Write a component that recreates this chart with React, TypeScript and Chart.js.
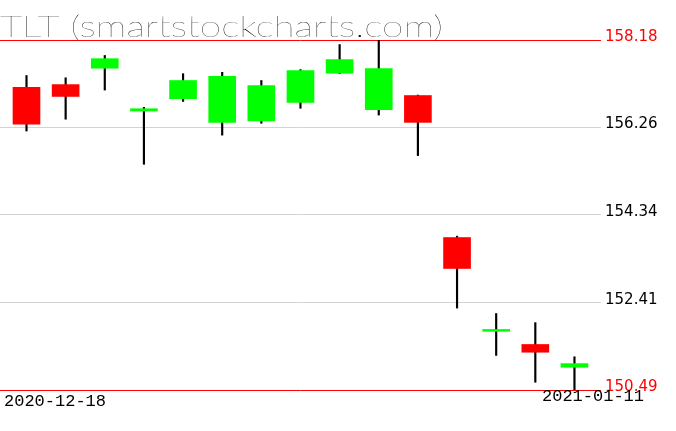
import React, { useEffect, useRef } from "react";
import { Chart, registerables } from "chart.js";

Chart.register(...registerables);

const titleText = "TLT (smartstockcharts.com)";
const dates = [
  "2020-12-18", "2020-12-21", "2020-12-22", "2020-12-23", "2020-12-24",
  "2020-12-28", "2020-12-29", "2020-12-30", "2020-12-31", "2021-01-04",
  "2021-01-05", "2021-01-06", "2021-01-07", "2021-01-08", "2021-01-11",
];
const opens = [157.14, 157.2, 157.56, 156.62, 156.89, 156.37, 156.4, 156.81, 157.45, 156.65, 156.96, 153.84, 151.78, 151.49, 150.99];
const highs = [157.4, 157.35, 157.84, 156.7, 157.44, 157.47, 157.29, 157.53, 158.08, 158.18, 156.97, 153.87, 152.17, 151.97, 151.22];
const lows = [156.18, 156.44, 157.08, 155.45, 156.83, 156.09, 156.35, 156.68, 157.44, 156.53, 155.64, 152.29, 151.25, 150.66, 150.49];
const closes = [156.33, 156.94, 157.77, 156.67, 157.29, 157.38, 157.18, 157.51, 157.75, 157.55, 156.37, 153.16, 151.82, 151.32, 151.07];
const yTicks = [150.49, 152.41, 154.34, 156.26, 158.18];

const UP = "#00ff00";
const DOWN = "#ff0000";

export default function App() {
  const ref = useRef<HTMLCanvasElement | null>(null);

  useEffect(() => {
    if (!ref.current) return;
    const yMin = Math.min(...lows);
    const yMax = Math.max(...highs);

    const textPlugin = {
      id: "texts",
      afterDraw(chart: any) {
        const ctx = chart.ctx;
        ctx.save();
        ctx.fillStyle = "#000";
        ctx.textBaseline = "alphabetic";
        ctx.textAlign = "left";
        ctx.font = "100 30px Lato";
        const w = ctx.measureText(titleText).width;
        ctx.translate(0, 37);
        ctx.scale(443 / w, 1);
        ctx.fillText(titleText, 0, 0);
        ctx.restore();

        ctx.save();
        ctx.fillStyle = "#000";
        ctx.textBaseline = "alphabetic";
        ctx.textAlign = "left";
        ctx.font = "17px 'Liberation Mono'";
        ctx.fillText(dates[0], 4, 406);
        ctx.fillText(dates[dates.length - 1], 542, 401);
        ctx.restore();
      },
    };

    const chart = new Chart(ref.current, {
      type: "bar",
      data: {
        datasets: [
          {
            label: "body",
            data: dates.map((_, i) => ({ x: i, y: [opens[i], closes[i]] })) as any,
            backgroundColor: dates.map((_, i) => (closes[i] >= opens[i] ? UP : DOWN)),
            borderWidth: 0,
            barThickness: 27,
            grouped: false,
          } as any,
          {
            label: "wick",
            data: dates.map((_, i) => ({ x: i, y: [lows[i], highs[i]] })) as any,
            backgroundColor: "#000",
            borderWidth: 0,
            barThickness: 1.5,
            grouped: false,
          } as any,
        ],
      },
      options: {
        animation: false,
        responsive: false,
        maintainAspectRatio: false,
        layout: { padding: { top: 40, bottom: 41, left: 0, right: 0 } },
        plugins: {
          legend: { display: false },
          tooltip: { enabled: false },
          title: { display: false },
        },
        scales: {
          x: {
            type: "linear",
            display: false,
            min: -0.677,
            max: 14.678,
            offset: false,
          },
          y: {
            position: "right",
            min: yMin,
            max: yMax,
            afterBuildTicks: (scale: any) => {
              scale.ticks = yTicks.map((v) => ({ value: v }));
            },
            afterFit: (scale: any) => {
              scale.width = 75;
            },
            border: { display: false },
            grid: {
              drawTicks: false,
              tickLength: 0,
              lineWidth: 1,
              color: (c: any) =>
                c.tick && (c.tick.value === yTicks[0] || c.tick.value === yTicks[yTicks.length - 1])
                  ? "#ff0000"
                  : "#d3d3d3",
            },
            ticks: {
              padding: 4,
              labelOffset: -3,
              font: { family: "'DejaVu Sans'", size: 15 },
              color: (c: any) =>
                c.tick && (c.tick.value === yTicks[0] || c.tick.value === yTicks[yTicks.length - 1])
                  ? "#ff0000"
                  : "#000000",
              callback: (v: any) => Number(v).toFixed(2),
            },
          },
        },
      },
      plugins: [textPlugin],
    });
    return () => chart.destroy();
  }, []);

  return (
    <div style={{ position: "absolute", left: 0, top: 0, width: 676, height: 431, background: "#fff" }}>
      <canvas ref={ref} width={676} height={431} style={{ display: "block" }} />
    </div>
  );
}
